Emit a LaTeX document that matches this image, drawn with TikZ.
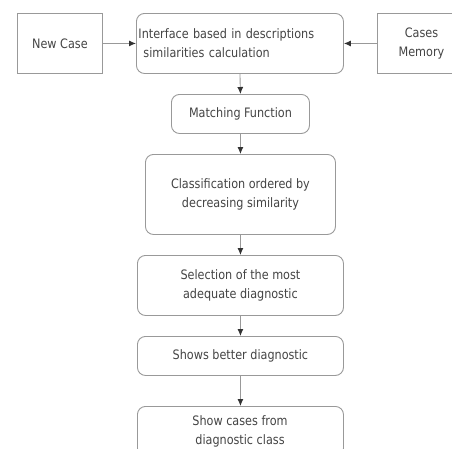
\documentclass[tikz,border=0pt]{standalone}
\usepackage{fontspec}
\setmainfont[FakeStretch=0.96]{DejaVu Sans Condensed}
\usetikzlibrary{arrows.meta}
\definecolor{txt}{HTML}{444444}
\definecolor{ln}{HTML}{999999}
\definecolor{tip}{HTML}{333333}
\begin{document}
\begin{tikzpicture}[x=1pt,y=-1pt,
  base/.style={draw=ln, line width=0.9pt, text=txt, font=\fontsize{13}{19}\selectfont, align=center, inner sep=0pt, anchor=north west},
  sq/.style={base},
  rbox/.style={base, rounded corners=8pt},
  conn/.style={draw=ln, line width=0.9pt, -{Latex[length=7pt,width=6pt,fill=tip,color=tip]}}]
\useasboundingbox (0,0) rectangle (452,448);
\clip (0,0) rectangle (452,448);
\node[sq, minimum width=85pt, minimum height=60pt] (newcase) at (17,13) {New Case};
\node[rbox, minimum width=207pt, minimum height=60pt, text width=203pt, align=left] (iface) at (136,13) {Interface based in descriptions\\\hspace*{5pt}similarities calculation};
\node[sq, minimum width=92pt, minimum height=60pt] (mem) at (377,13) {\hspace*{-4pt}Cases\\\hspace*{-4pt}Memory};
\node[rbox, minimum width=138pt, minimum height=39pt] (match) at (171,94) {Matching Function};
\node[rbox, minimum width=190pt, minimum height=80pt] (class) at (145,154) {Classification ordered by\\decreasing similarity};
\node[rbox, minimum width=206pt, minimum height=60pt] (sel) at (137,255) {Selection of the most\\adequate diagnostic};
\node[rbox, minimum width=206pt, minimum height=39pt] (shows) at (137,336) {Shows better diagnostic};
\node[rbox, minimum width=206pt, minimum height=50pt] (showc) at (137,406) {};
\node[text=txt, font=\fontsize{13}{19}\selectfont, align=center] (showct) at (240,431) {Show cases from\\diagnostic class};
\draw[conn] (newcase.east) -- (iface.west);
\draw[conn] (mem.west) -- (iface.east);
\draw[conn] (iface.south) -- (match.north);
\draw[conn] (match.south) -- (class.north);
\draw[conn] (class.south) -- (sel.north);
\draw[conn] (sel.south) -- (shows.north);
\draw[conn] (shows.south) -- (showc.north);
\end{tikzpicture}
\end{document}
